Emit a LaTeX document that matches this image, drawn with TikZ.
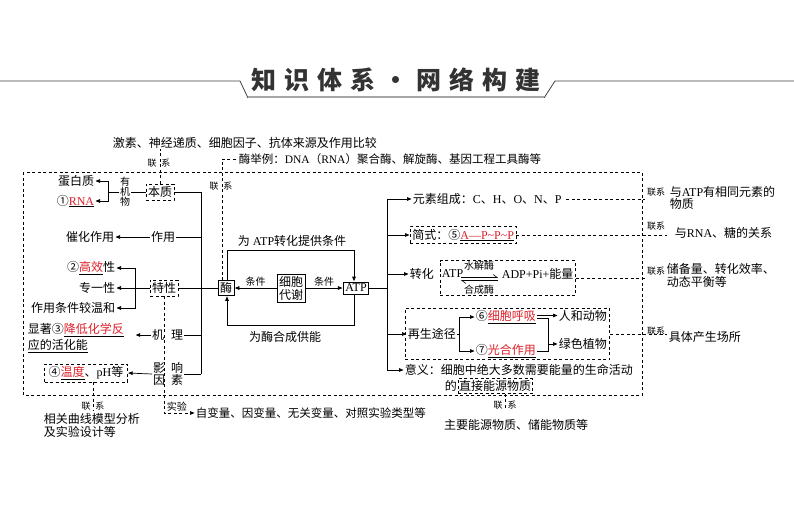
\documentclass[tikz,border=0pt]{standalone}
\usepackage{fontspec}
\setmainfont{Noto Sans CJK SC}
\newfontfamily\lat{Liberation Serif}
\usetikzlibrary{arrows.meta,fit}
\definecolor{redt}{RGB}{222,30,40}
\newcommand\redu[1]{\underline{\textcolor{redt}{#1}}}
\tikzset{
 every node/.style={inner sep=0.5pt, font=\fontsize{12}{13}\selectfont},
 sm/.style={font=\fontsize{9}{10}\selectfont},
 ms/.style={font=\fontsize{10}{11}\selectfont},
 dl/.style={dash pattern=on 3pt off 2.5pt},
 dbox/.style={draw, dl, inner xsep=2pt, inner ysep=2.5pt},
 sbox/.style={draw, inner xsep=2pt, inner ysep=2pt},
 arr/.style={-{Triangle[length=4.5pt,width=3.6pt]}, shorten >=0.5pt},
}
\begin{document}
\begin{tikzpicture}[x=1pt,y=-1pt,line width=0.7pt]
\useasboundingbox (0,0) rectangle (794,504);
% title
\draw[line width=0.8pt, black!75] (0,81) -- (240,81) -- (248,98);
\draw[line width=0.8pt, black!75] (544,98) -- (555,81) -- (794,81);
\draw[line width=2.5pt, black!35] (248,97) -- (544,97);
\node[font=\fontsize{25}{26}\selectfont\bfseries, text=black!80] (title) at (396,80)
 {知\hspace{8pt}识\hspace{8pt}体\hspace{8pt}系\hspace{8pt}·\hspace{8pt}网\hspace{8pt}络\hspace{8pt}构\hspace{8pt}建};
% big dashed frame
\draw[dl] (23,172) rectangle (642,395);
\coordinate (R1) at (645,0);
\coordinate (R2) at (667,0);
% top left
\node[anchor=west] (jisu) at (112,143) {激素、神经递质、细胞因子、抗体来源及作用比较};
\node[sm] (lx1) at (159,163) {联\hspace{5pt}系};
\node[dbox] (bz) at (160,192) {本质};
\draw[dl] (bz.north) -- (bz.north |- jisu.south);
\node[align=center, font=\fontsize{10}{10}\selectfont] (yjw) at (125,192) {有\\机\\物};
\node[anchor=east] (dbz) at (95,181) {蛋白质};
\node[anchor=east] (rna) at (95,201) {①\redu{\lat RNA}};
\draw (bz.west) -- (yjw.east);
\draw (yjw.west) -- ++(-11,0) coordinate (bk1);
\draw[arr] (bk1) |- (dbz.east);
\draw[arr] (bk1) |- (rna.east);
\coordinate (tT) at (201,192);
\coordinate (tB) at (201,374);
\draw (bz.east) -- (tT) -- (tB);
\node (zy) at (163,237) {作用};
\draw (zy.east) -- (zy.east -| tT);
\node[anchor=east] (chzy) at (115,237) {催化作用};
\draw[arr] (zy.west) -- (chzy.east);
% texing
\node[dbox] (tx) at (164,288) {特性};
\node[sbox] (mei) at (226,288) {酶};
\draw (tx.east) -- (mei.west);
\draw (tx.west) -- ++(-14,0) coordinate (bk2);
\node[anchor=east] (gx) at (116,268) {②\redu{高效}性};
\node[anchor=east] (zyx) at (116,288) {专一性};
\node[anchor=east] (wh) at (116,308) {作用条件较温和};
\draw[arr] (bk2) -- (zyx.east);
\draw[arr] (bk2) |- (gx.east);
\draw[arr] (bk2) |- (wh.east);
% jili
\node (ji) at (158,335) {机};
\node (li) at (177,335) {理};
\draw (li.east) -- (li.east -| tT);
\node[anchor=west, align=left, font=\fontsize{12}{16}\selectfont] (jl) at (27,338) {显著③\redu{降低化学反}\\\underline{应的活化能}};
\draw[arr, shorten >=11pt] (ji.west) -- (ji.west -| jl.east);
% yingxiang
\node[align=center, font=\fontsize{12}{12.5}\selectfont] (yy) at (159,374) {影\\因};
\node[align=center, font=\fontsize{12}{12.5}\selectfont] (xs) at (177,374) {响\\素};
\draw (xs.east) -- (xs.east -| tB);
\node[dbox, inner xsep=4pt] (wd) at (86,373) {④\redu{温度}、{\lat pH}等};
\draw[arr] (yy.west) -- (wd.east);
\node[sm] (lx2) at (93,406) {联\hspace{5pt}系};
\draw[dl] (lx2.center |- wd.south) -- (lx2.south);
\node[anchor=north west, align=left, font=\fontsize{12}{12.5}\selectfont] (xg) at (43,413) {相关曲线模型分析\\及实验设计等};
% experiment
\node[anchor=west, font=\fontsize{11.5}{12}\selectfont] (zbl) at (195,413) {自变量、因变量、无关变量、对照实验类型等};
\draw[dl, arr] (tx.south) |- (zbl.west);
\node[anchor=south west, font=\fontsize{10}{11}\selectfont] (sy) at (166,412) {实验};
% top middle
\node[anchor=west, font=\fontsize{11.5}{12}\selectfont] (mjl) at (238,159) {酶举例：{\lat DNA}（{\lat RNA}）聚合酶、解旋酶、基因工程工具酶等};
\draw[dl] ([xshift=-4pt]mei.north) |- (mjl.west);
\node[sm] (lx4) at (221,186) {联\hspace{5pt}系};
% center
\node[sbox] (atp) at (356,288) {\lat ATP};
\node[sbox, align=center] (xb) at (291,288) {细胞\\代谢};
\draw[arr] (xb.west) -- (xb.west -| mei.east) node[midway, above=1pt, ms] {条件};
\draw[arr] (xb.east) -- (xb.east -| atp.west) node[midway, above=1pt, ms] {条件};
\draw[arr] ([xshift=1pt]mei.north) -- ++(0,-30) -| ([xshift=-2pt]atp.north);
\node (lt) at (292,241) {为{\lat\ ATP}转化提供条件};
\draw[arr] ([xshift=-2pt]atp.south) -- ++(0,31) -| ([xshift=1pt]mei.south);
\node (lb) at (285,337) {为酶合成供能};
% right trunk
\coordinate (t2a) at (387,199);
\coordinate (t2b) at (387,370);
\draw (atp.east) -- (atp.east -| t2a);
\draw (t2a) -- (t2b);
\node[anchor=west] (ys) at (412,199) {元素组成：{\lat C}、{\lat H}、{\lat O}、{\lat N}、{\lat P}};
\draw[arr] (t2a) -- (ys.west);
\draw[dl] ([xshift=4pt]ys.east) -- (ys.east -| R1);
\node[dbox, anchor=west] (jsh) at (410,235) {简式：⑤\redu{\lat A—P\textasciitilde P\textasciitilde P}};
\draw[arr] (t2a |- jsh.west) -- (jsh.west);
\draw[dl] (jsh.east) -- (jsh.east -| R2);
% zhuanhua
\node[anchor=west] (zh) at (409,274) {转化};
\draw[arr] (t2a |- zh.west) -- (zh.west);
\node[anchor=west] (atp2) at (441,274) {\lat ATP};
\coordinate (hpL) at (461,277.5);
\coordinate (hpR) at (498,277.5);
\draw[line width=0.6pt, -{Straight Barb[harpoon,length=4pt,width=6pt]}] (hpL) -- (hpR);
\draw[line width=0.6pt, -{Straight Barb[harpoon,length=4pt,width=6pt]}] ([yshift=-3pt]hpR) -- ([yshift=-3pt]hpL);
\node[ms] (sj) at (479,266) {水解酶};
\node[ms] (hc) at (479,290) {合成酶};
\node[anchor=west] (adp) at (501,274) {{\lat ADP+Pi+}能量};
\node[dbox, fit=(atp2)(sj)(hc)(adp), inner xsep=1pt, inner ysep=0pt] (zhb) {};
\draw[dl] (zhb.east) -- (zhb.east -| R1);
% zaisheng
\node[anchor=west] (zs) at (407,334) {再生途径};
\draw[arr] (t2a |- zs.west) -- (zs.west);
\draw (zs.east) -- ++(3,0) coordinate (bk3);
\node[anchor=west] (xhx) at (475,317) {⑥\redu{细胞呼吸}};
\node[anchor=west] (ghzy) at (475,351) {⑦\redu{光合作用}};
\draw[arr] (bk3) |- (xhx.west);
\draw[arr] (bk3) |- (ghzy.west);
\node[anchor=west] (rhdw) at (558,316) {人和动物};
\node[anchor=west] (lszw) at (558,344) {绿色植物};
\draw[arr] ([yshift=1.5pt]xhx.east) -- ([yshift=1.5pt]xhx.east -| rhdw.west);
\draw ([yshift=-1.5pt]xhx.east) -- ++(12,0) coordinate (jn) |- (ghzy.east);
\draw[arr] (jn |- lszw.west) -- (lszw.west);
\node[dbox, fit=(zs)(xhx)(ghzy)(rhdw)(lszw), inner xsep=2pt, inner ysep=1pt] (zsb) {};
\draw[dl] (zsb.east) -- (zsb.east -| R2);
% yiyi
\node[anchor=west] (yy2) at (404,370) {意义：细胞中绝大多数需要能量的生命活动};
\draw[arr] (t2b) -- (yy2.west);
\node[dbox, inner xsep=1pt, inner ysep=2pt] (zj) at (495,386) {直接能源物质};
\node[anchor=east] (de) at (zj.west) {的};
\node[sm] (lx3) at (505,405) {联\hspace{5pt}系};
\draw[dl] (lx3.center |- zj.south) -- (lx3.south);
\node (zy2) at (516,425) {主要能源物质、储能物质等};
% right labels
\node[sm] (r1) at (656,192) {联系};
\node[anchor=north west, align=left, font=\fontsize{12}{12}\selectfont] (r1t) at (669,186) {与{\lat ATP}有相同元素的\\物质};
\node[sm] (r2) at (656,226) {联系};
\node[anchor=west] (r2t) at (674,233) {与{\lat RNA}、糖的关系};
\node[sm] (r3) at (656,271) {联系};
\node[anchor=north west, align=left, font=\fontsize{12}{13}\selectfont] (r3t) at (666,262) {储备量、转化效率、\\动态平衡等};
\node[sm] (r4) at (656,331) {联系};
\node[anchor=west] (r4t) at (668,337) {具体产生场所};
\end{tikzpicture}
\end{document}
